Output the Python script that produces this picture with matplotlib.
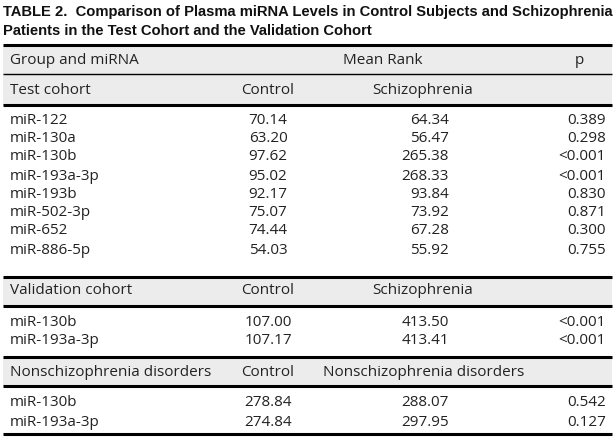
import matplotlib.pyplot as plt

title_lines = ['TABLE 2.  Comparison of Plasma miRNA Levels in Control Subjects and Schizophrenia',
               'Patients in the Test Cohort and the Validation Cohort']

test_mirna = ['miR-122', 'miR-130a', 'miR-130b', 'miR-193a-3p', 'miR-193b',
              'miR-502-3p', 'miR-652', 'miR-886-5p']
test_control = ['70.14', '63.20', '97.62', '95.02', '92.17', '75.07', '74.44', '54.03']
test_schizo = ['64.34', '56.47', '265.38', '268.33', '93.84', '73.92', '67.28', '55.92']
test_p = ['0.389', '0.298', '<0.001', '<0.001', '0.830', '0.871', '0.300', '0.755']

val_mirna = ['miR-130b', 'miR-193a-3p']
val_control = ['107.00', '107.17']
val_schizo = ['413.50', '413.41']
val_p = ['<0.001', '<0.001']

non_mirna = ['miR-130b', 'miR-193a-3p']
non_control = ['278.84', '274.84']
non_other = ['288.07', '297.95']
non_p = ['0.542', '0.127']

W, H = 615, 442
fig = plt.figure(figsize=(W / 100, H / 100), dpi=100)
ax = fig.add_axes([0, 0, 1, 1])
ax.set_xlim(0, W)
ax.set_ylim(H, 0)
ax.axis('off')

body = dict(fontsize=11, color='#222222', family=['Open Sans', 'DejaVu Sans'], va='center')
x_left, x_ctrl, x_sch, x_p = 10, 268, 449, 606
line_l, line_r = 3, 612

# title
tstyle = dict(fontsize=10.6, fontweight='bold', color='#111111',
              family=['Liberation Sans Narrow', 'Liberation Sans'], va='center')
ax.text(3, 12, title_lines[0], **tstyle)
ax.text(3, 31, title_lines[1], **tstyle)

# gray header bands
for top, bot in [(45, 105), (277, 306), (357, 386)]:
    ax.fill_between([line_l, line_r], top, bot, color='#ececec', lw=0)
for y in [45, 105, 277, 306, 357, 386, 434]:
    ax.hlines(y, line_l, line_r, color='black', lw=2.2)
ax.hlines(74, line_l, line_r, color='black', lw=1.0)

# header
ax.text(x_left, 60, 'Group and miRNA', **body)
ax.text(383, 60, 'Mean Rank', ha='center', **body)
ax.text(579, 60, 'p', ha='center', **body)

def section(y_head, head, other_head, other_x, names, ctrl, sch, pv, y_rows):
    ax.text(x_left, y_head, head, **body)
    ax.text(x_ctrl, y_head, 'Control', ha='center', **body)
    ax.text(other_x, y_head, other_head, **body)
    for i in range(len(names)):
        y = y_rows[i]
        ax.text(x_left, y, names[i], **body)
        ax.text(x_ctrl, y, ctrl[i], ha='center', **body)
        ax.text(x_sch, y, sch[i], ha='right', **body)
        ax.text(x_p, y, pv[i], ha='right', **body)

section(91, 'Test cohort', 'Schizophrenia', 372, test_mirna, test_control, test_schizo, test_p,
        [120, 139, 157, 176, 194, 213, 231, 250])
section(291, 'Validation cohort', 'Schizophrenia', 372, val_mirna, val_control, val_schizo, val_p,
        [322, 341])
section(372, 'Nonschizophrenia disorders', 'Nonschizophrenia disorders', 323,
        non_mirna, non_control, non_other, non_p, [403, 422])

fig.savefig('out.png', dpi=100, facecolor='white')
